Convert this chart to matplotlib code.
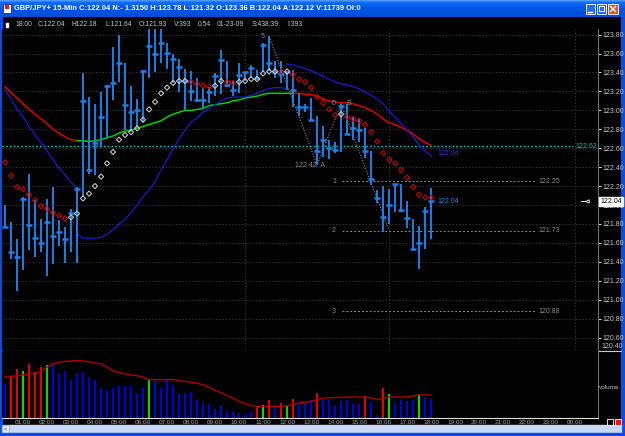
import numpy as np
import matplotlib
matplotlib.use("Agg")
import matplotlib.pyplot as plt
from matplotlib.patches import Rectangle

plt.rcParams['font.family'] = ['Liberation Sans', 'DejaVu Sans']

# GBP/JPY+ 15-min bars, 00:15 .. 18:00 (01-23-09)
highs = [122.00, 121.82, 121.64, 122.09, 122.33, 122.05, 121.85, 122.06, 122.19, 121.84,
         121.77, 121.96, 122.19, 123.39, 123.14, 123.07, 123.19, 123.27, 123.67, 123.80,
         123.50, 123.26, 123.12, 123.43, 123.90, 123.90, 123.92, 123.71, 123.60, 123.54,
         123.44, 123.42, 123.34, 123.24, 123.25, 123.39, 123.64, 123.52, 123.31, 123.50,
         123.41, 123.48, 123.43, 123.71, 123.78, 123.52, 123.52, 123.42, 123.43, 123.18,
         123.07, 123.13, 122.94, 122.83, 122.69, 122.67, 123.07, 123.07, 122.93, 122.91,
         122.81, 122.57, 122.16, 122.20, 122.17, 122.22, 122.22, 122.04, 121.85, 121.78,
         121.98, 122.18]
lows = [121.76, 121.43, 121.09, 121.31, 121.53, 121.45, 121.50, 121.25, 121.38, 121.57,
        121.39, 121.50, 121.39, 122.09, 122.33, 122.32, 122.62, 122.72, 123.11, 123.30,
        122.79, 122.77, 122.81, 122.88, 123.34, 123.41, 123.50, 123.44, 123.29, 123.19,
        123.00, 123.10, 123.09, 123.01, 123.08, 123.15, 123.17, 123.25, 123.15, 123.18,
        123.31, 123.34, 123.32, 123.41, 123.42, 123.34, 123.29, 123.22, 123.04, 122.94,
        122.98, 122.89, 122.42, 122.51, 122.49, 122.55, 122.56, 122.74, 122.69, 122.67,
        122.50, 122.21, 122.02, 121.71, 121.80, 121.93, 121.93, 121.76, 121.53, 121.32,
        121.54, 121.64]
closes = [121.77, 121.50, 121.45, 122.06, 121.79, 121.65, 121.60, 121.82, 121.67, 121.72,
          121.64, 121.92, 122.17, 123.10, 122.37, 122.66, 122.93, 123.26, 123.29, 123.50,
          123.06, 122.98, 123.00, 123.42, 123.68, 123.59, 123.71, 123.61, 123.54, 123.46,
          123.31, 123.20, 123.11, 123.11, 123.19, 123.36, 123.53, 123.27, 123.21, 123.37,
          123.40, 123.45, 123.34, 123.69, 123.50, 123.41, 123.38, 123.41, 123.21, 123.04,
          123.03, 122.90, 122.57, 122.69, 122.60, 122.58, 123.05, 122.75, 122.81, 122.79,
          122.57, 122.28, 122.07, 121.87, 122.00, 122.22, 121.95, 121.86, 121.54, 121.60,
          121.94, 122.04]

# moving average (green while rising between the two switch bars)
ma_line = [123.25, 123.19, 123.13, 123.07, 123.01, 122.96, 122.91, 122.86, 122.80, 122.76,
           122.72, 122.69, 122.68, 122.68, 122.67, 122.68, 122.69, 122.71, 122.73, 122.76,
           122.78, 122.79, 122.81, 122.83, 122.85, 122.87, 122.89, 122.93, 122.96, 122.98,
           123.00, 123.00, 123.01, 123.02, 123.05, 123.06, 123.07, 123.08, 123.10, 123.11,
           123.13, 123.14, 123.15, 123.17, 123.18, 123.18, 123.18, 123.18, 123.18, 123.18,
           123.17, 123.17, 123.15, 123.12, 123.10, 123.09, 123.08, 123.08, 123.07, 123.05,
           123.03, 123.00, 122.96, 122.91, 122.87, 122.85, 122.82, 122.79, 122.75, 122.70,
           122.66, 122.63]
ma_up_start, ma_up_end = 12, 48

# volatility stop line, three pieces
stop_short1 = [123.22, 123.12, 123.02, 122.93, 122.83, 122.74, 122.66, 122.57, 122.48, 122.39,
               122.32, 122.24, 122.18]                       # bars 0..12
stop_long = [121.70, 121.65, 121.65, 121.65, 121.66, 121.69, 121.74, 121.80, 121.85, 121.92,
             122.00, 122.09, 122.16, 122.25, 122.37, 122.48, 122.59, 122.70, 122.79, 122.88,
             122.92, 122.98, 123.02, 123.06, 123.10, 123.13, 123.14, 123.14, 123.14, 123.16,
             123.18, 123.21, 123.23, 123.24, 123.24, 123.23]  # bars 12..47
stop_short2 = [123.49, 123.48, 123.46, 123.44, 123.42, 123.39, 123.36, 123.33, 123.30, 123.28,
               123.27, 123.25, 123.23, 123.19, 123.16, 123.12, 123.07, 122.99, 122.93, 122.86,
               122.79, 122.72, 122.63, 122.57, 122.52]        # bars 47..71

# parabolic SAR, R = above price (red), W = below (white)
sar = [122.45, 122.31, 122.19, 122.17, 122.11, 122.05, 121.99, 121.96, 121.92, 121.89,
       121.86, 121.87, 121.91, 122.07, 122.12, 122.20, 122.30, 122.44, 122.56, 122.69,
       122.74, 122.77, 122.81, 122.90, 123.01, 123.09, 123.18, 123.24, 123.29, 123.31,
       123.31, 123.30, 123.28, 123.26, 123.25, 123.26, 123.31, 123.30, 123.29, 123.30,
       123.31, 123.33, 123.33, 123.39, 123.41, 123.41, 123.41, 123.41, 123.38, 123.33,
       123.30, 123.24, 123.14, 123.08, 123.01, 122.95, 122.96, 122.93, 122.91, 122.89,
       122.85, 122.77, 122.67, 122.55, 122.48, 122.44, 122.37, 122.29, 122.19, 122.11,
       122.08, 122.08]
sar_side = ("RRRRRRRRRRR" + "WWWWWWWWWWWWWWWWWWWW" + "RRRR" + "WW" + "RR" + "WWWWWWW"
            + "R" + "W" + "RRRRRRRR" + "W" + "RRRRRRRRRRRRRRR")

volume = [710, 850, 1020, 980, 1125, 930, 1050, 1095, 1105, 930,
          965, 795, 930, 960, 850, 795, 620, 585, 620, 670,
          670, 670, 520, 620, 805, 760, 620, 795, 690, 520,
          520, 540, 380, 295, 295, 195, 260, 135, 155, 105,
          90, 125, 255, 270, 380, 220, 315, 255, 395, 295,
          310, 365, 520, 380, 395, 240, 345, 380, 295, 295,
          450, 325, 70, 620, 505, 310, 395, 360, 380, 505,
          435, 393]
vol_side = ("BRRGRRRG" + "B" * 16 + "G" + "B" * 17 + "RGRBRGR" + "BBB" + "R" + "B" * 7
            + "R" + "BB" + "RG" + "BBBB" + "G" + "BB")
vol_ma = [855, 865, 875, 895, 915, 940, 970, 1060, 1125, 1155,
          1175, 1185, 1190, 1185, 1165, 1145, 1125, 1060, 980, 940,
          915, 895, 880, 845, 795, 795, 795, 795, 800, 780,
          760, 740, 725, 690, 640, 575, 525, 470, 415, 350,
          295, 265, 240, 240, 240, 240, 245, 255, 275, 315,
          325, 350, 380, 415, 420, 425, 430, 435, 435, 435,
          435, 420, 380, 410, 435, 435, 435, 440, 460, 480,
          480, 480]

# elliott count and fib extension
zig_bars = [44, 52, 56, 64]
zig_prices = [123.78, 122.42, 123.07, 121.73]
fib_names = ["1", "2", "3"]
fib_levels = [122.25, 121.73, 120.88]
ref_level = 122.62
last_close = 122.04

hour_labels = ["%02d:00" % (h % 24) for h in range(1, 25)]
hour_bars = [4 * h - 1 for h in range(1, 25)]
price_ticks = np.round(np.arange(120.60, 123.81, 0.20), 2)

title = ("GBP/JPY+ 15-Min C:122.04 N:- 1.3150 H:123.78 L:121.32 O:123.36 "
         "B:122.04 A:122.12 V:11739 OI:0")
info_items = ["18:00", "C:122.04", "H122.18", "L:121.64", "O:121.93", "V:393",
              "0:54", "01-23-09", "S:438.39", "I:393"]
info_x = [15, 38, 72, 106, 139, 174, 198, 217, 252, 287]

n = len(closes)
idx = np.arange(n)

W, H = 625, 436
fig = plt.figure(figsize=(W / 100, H / 100), dpi=100, facecolor='black')


def px_box(x0, y0, x1, y1):
    return [x0 / W, 1 - y1 / H, (x1 - x0) / W, (y1 - y0) / H]


# ---- window chrome (pixel coordinates)
chrome = fig.add_axes([0, 0, 1, 1], zorder=-10)
chrome.axis('off')
stops_y = [0, 2, 8, 17]
stops_c = np.array([[0.30, 0.60, 1.00], [0.06, 0.42, 0.96], [0.00, 0.33, 0.90], [0.00, 0.30, 0.84]])
rows = np.arange(17)
grad = np.stack([np.interp(rows, stops_y, stops_c[:, k]) for k in range(3)], axis=1)[:, None, :]
chrome.imshow(grad, extent=(0, W, 17, 0), aspect='auto', zorder=0)
chrome.set_xlim(0, W)
chrome.set_ylim(H, 0)

frame = '#0A4BE6'
chrome.add_patch(Rectangle((0, 17), 2, H - 17, color=frame))
chrome.add_patch(Rectangle((621, 17), 4, H - 17, color=frame))
chrome.add_patch(Rectangle((2, 425), 619, 8, color='#C8D8F6'))
chrome.add_patch(Rectangle((2, 425), 7, 8, fc='#E2EAFB', ec='#90A8D8', lw=0.5))
chrome.text(5.5, 429, '<', fontsize=4, color='#304080', ha='center', va='center')
chrome.add_patch(Rectangle((0, 433), W, 3, color=frame))
chrome.add_patch(Rectangle((607, 419), 6, 6, fc='black', ec='white', lw=0.6))
chrome.add_patch(Rectangle((615, 419), 6, 6, fc='#FF1010', ec='white', lw=0.6))
chrome.plot([2, 621], [350.5, 350.5], color='#C8C8C8', lw=0.8)
chrome.add_patch(Rectangle((6, 23), 1.5, 4, color='white'))

# title bar
chrome.add_patch(Rectangle((3, 4), 8, 9, fc='white', ec='#203080', lw=0.6))
chrome.add_patch(Rectangle((4.5, 5.5), 3, 3, color='#E02020'))
chrome.text(14, 9, title, color='white', fontsize=5.45, fontweight='bold', va='center')
for bx in (586, 597):
    chrome.add_patch(Rectangle((bx, 4), 9, 10, fc='#2A6AF0', ec='white', lw=0.6))
chrome.plot([588, 592], [12, 12], color='white', lw=1)
chrome.add_patch(Rectangle((599, 6.5), 5, 5, fill=False, ec='white', lw=0.7))
chrome.add_patch(Rectangle((608, 4), 10, 10, fc='#E0502A', ec='white', lw=0.6))
chrome.plot([610.5, 615.5], [6.5, 11.5], color='white', lw=1)
chrome.plot([610.5, 615.5], [11.5, 6.5], color='white', lw=1)

for x, s in zip(info_x, info_items):
    chrome.text(x, 24.5, s, color='#C8C8C8', fontsize=4.9, va='center')

# ---- price panel
ax = fig.add_axes(px_box(2, 29, 598, 350))
ax.set_facecolor('black')
ax.set_xlim(-0.5, 98.8)
ax.set_ylim(120.469, 123.859)
for s in ('top', 'left', 'bottom'):
    ax.spines[s].set_visible(False)
ax.spines['right'].set_color('#707070')
ax.yaxis.tick_right()
ax.set_yticks(price_ticks)
ax.set_yticklabels(["%.2f" % p for p in price_ticks])
ax.tick_params(axis='y', color='white', labelcolor='#C8C8C8', labelsize=5, length=2, width=0.6, pad=1)
ax.tick_params(axis='x', bottom=False, labelbottom=False)
ax.text(1.006, 120.47, "120.40", transform=ax.get_yaxis_transform(), color='#C8C8C8',
        fontsize=5, va='bottom', clip_on=False)

for p in price_ticks:
    ax.axhline(p, color='#444444', lw=0.6, ls=(0, (1.5, 2.5)), zorder=0)
for b in (40, 64, 95):
    ax.axvline(b, color='#444444', lw=0.6, ls=(0, (1.5, 2.5)), zorder=0)

ax.axhline(ref_level, xmax=(573 - 2) / 596, color='#00C8C8', lw=1, ls=(0, (1.2, 1.5)), zorder=1)
ax.text(95, ref_level, "%.2f" % ref_level, color='#00C8C8', fontsize=5, va='center')

# moving average
ax.plot(idx[:ma_up_start + 1], ma_line[:ma_up_start + 1], color='#E00000', lw=1.1, zorder=2)
ax.plot(idx[ma_up_start:ma_up_end + 1], ma_line[ma_up_start:ma_up_end + 1], color='#00D000', lw=1.1, zorder=2)
ax.plot(idx[ma_up_end:], ma_line[ma_up_end:], color='#E00000', lw=1.1, zorder=2)

# stop line
stop_col = '#1A1AD8'
ax.plot(idx[0:13], stop_short1, color=stop_col, lw=0.9, zorder=2)
ax.plot(idx[12:48], stop_long, color=stop_col, lw=0.9, zorder=2)
ax.plot(idx[47:72], stop_short2, color=stop_col, lw=0.9, zorder=2)

# bars
bar_col = '#1E7FE6'
ax.vlines(idx, lows, highs, color=bar_col, lw=1.4, zorder=3)
ax.hlines(closes, idx - 0.5, idx + 0.5, color=bar_col, lw=1.8, zorder=3)

# SAR
sar_cols = ['#E00000' if c == 'R' else '#D8D8D8' for c in sar_side]
ax.scatter(idx, sar, marker='D', s=7, facecolors='none', edgecolors=sar_cols, linewidths=0.7, zorder=4)

# elliott zigzag + fib extension
grey = '#8C8C8C'
ax.plot(zig_bars, zig_prices, color=grey, lw=0.8, ls=(0, (1, 1.5)), zorder=2)
ax.text(zig_bars[0] - 1.1, zig_prices[0], "5", color=grey, fontsize=5, ha='center', va='center')
ax.text(zig_bars[1] - 1.2, zig_prices[1], "122.42  A", color=grey, fontsize=5, ha='center', va='center')
ax.text(54.8, zig_prices[2], "0", color=grey, fontsize=5, ha='center', va='center')
ax.text(57.2, zig_prices[2], "B", color=grey, fontsize=5, ha='center', va='center')
ax.hlines(fib_levels, 56.1, 88.3, color=grey, lw=0.7, ls=(0, (2, 2)), zorder=1)
for name, lvl in zip(fib_names, fib_levels):
    ax.text(54.8, lvl, name, color=grey, fontsize=5, ha='center', va='center')
    ax.text(88.8, lvl, "%.2f" % lvl, color=grey, fontsize=5, va='center')

ax.text(72.1, stop_short2[-1] + 0.02, "%.2f" % last_close, color='#3030FF', fontsize=5, va='center')
ax.text(72.1, last_close, "%.2f" % last_close, color='#2090FF', fontsize=5, va='center')
ax.plot([96.9], [last_close], marker='<', ms=2.5, mfc='none', mec='white', mew=0.6, clip_on=False)
ax.plot([96.0, 96.7], [last_close, last_close], color='white', lw=0.6, clip_on=False)
ax.text(1.004, last_close, "%.2f" % last_close, transform=ax.get_yaxis_transform(),
        color='black', fontsize=5, va='center', clip_on=False, zorder=6,
        bbox=dict(boxstyle='square,pad=0.15', fc='white', ec='white'))

# ---- volume panel
axv = fig.add_axes(px_box(2, 351, 598, 418))
axv.set_facecolor('black')
axv.set_xlim(-0.5, 98.8)
axv.set_ylim(0, 1390)
for s in ('top', 'left'):
    axv.spines[s].set_visible(False)
axv.spines['right'].set_color('#707070')
axv.spines['bottom'].set_color('#E0E0E0')
vol_palette = {'B': '#0000E6', 'R': '#E80000', 'G': '#00E000'}
axv.bar(idx, volume, width=0.36, color=[vol_palette[c] for c in vol_side], zorder=2)
axv.plot(idx, vol_ma, color='#B00000', lw=1, zorder=3)
axv.set_yticks([])
axv.set_xticks(hour_bars)
axv.set_xticklabels(hour_labels)
axv.tick_params(axis='x', length=0, pad=1.2, labelsize=4.6, labelcolor='#A8A8A8')
axv.text(1.002, 0.45, "volume", transform=axv.transAxes, color='#C8C8C8', fontsize=4.6, va='center')

fig.savefig("out.png", dpi=100, facecolor='black')
